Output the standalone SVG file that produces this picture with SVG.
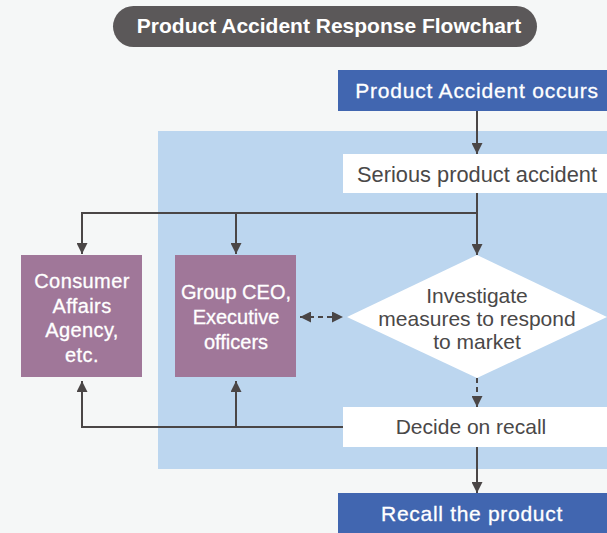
<svg xmlns="http://www.w3.org/2000/svg" width="607" height="533" viewBox="0 0 607 533">
<defs>
<marker id="ah" viewBox="0 0 10 10" refX="10" refY="5" markerWidth="11" markerHeight="11" markerUnits="userSpaceOnUse" orient="auto-start-reverse">
<path d="M0,0 L10,5 L0,10 z" fill="#4a4646"/>
</marker>
<style>
.ln{fill:none;stroke:#4a4646;stroke-width:2}
.ds{fill:none;stroke:#4a4646;stroke-width:2;stroke-dasharray:5 4}
.w{font-family:"Liberation Sans",Arial,sans-serif;fill:#fff;text-anchor:middle}
.b{font-weight:bold}
.m{stroke:#fff;stroke-width:0.3}
.d{font-family:"Liberation Sans",Arial,sans-serif;fill:#4a4848;text-anchor:middle}
.blue{fill:#4166b0}
.pur{fill:#a07799}
</style>
</defs>
<rect width="607" height="533" fill="#f5f7f7"/>
<rect x="158" y="131" width="449" height="338" fill="#bcd6ef"/>
<g id="title">
<rect x="113" y="6" width="424" height="41" rx="20.5" fill="#5b5859"/>
<text class="w b" x="329" y="33" font-size="21">Product Accident Response Flowchart</text>
</g>
<g id="connectors">
<line class="ln" x1="477" y1="111" x2="477" y2="154" marker-end="url(#ah)"/>
<line class="ln" x1="477" y1="193" x2="477" y2="255" marker-end="url(#ah)"/>
<polyline class="ln" points="477,213 82,213 82,254" marker-end="url(#ah)"/>
<line class="ln" x1="236" y1="213" x2="236" y2="254" marker-end="url(#ah)"/>
<polyline class="ln" points="343,427 82,427 82,381" marker-end="url(#ah)"/>
<line class="ln" x1="236" y1="427" x2="236" y2="381" marker-end="url(#ah)"/>
<line class="ds" x1="300" y1="317" x2="343" y2="317" marker-start="url(#ah)" marker-end="url(#ah)"/>
<line class="ds" x1="477" y1="378" x2="477" y2="407" marker-end="url(#ah)"/>
<line class="ln" x1="477" y1="447" x2="477" y2="493" marker-end="url(#ah)"/>
</g>
<g id="occurs">
<rect class="blue" x="338" y="70" width="269" height="41"/>
<text class="w m" x="477" y="98" font-size="21" letter-spacing="0.8">Product Accident occurs</text>
</g>
<g id="serious">
<rect x="343" y="154" width="264" height="39" fill="#fff"/>
<text class="d" x="477" y="182" font-size="21.8">Serious product accident</text>
</g>
<g id="consumer">
<rect class="pur" x="21" y="255" width="121" height="122"/>
<text class="w m" font-size="20" letter-spacing="0.4"><tspan x="82" y="288">Consumer</tspan><tspan x="82" y="313">Affairs</tspan><tspan x="82" y="337">Agency,</tspan><tspan x="82" y="362">etc.</tspan></text>
</g>
<g id="ceo">
<rect class="pur" x="175" y="255" width="121" height="122"/>
<text class="w m" font-size="20"><tspan x="236" y="299">Group CEO,</tspan><tspan x="236" y="324">Executive</tspan><tspan x="236" y="349">officers</tspan></text>
</g>
<g id="investigate">
<polygon points="477,255 607,317 477,378 347,317" fill="#fff"/>
<text class="d" font-size="21"><tspan x="477" y="303">Investigate</tspan><tspan x="477" y="326">measures to respond</tspan><tspan x="477" y="349">to market</tspan></text>
</g>
<g id="decide">
<rect x="343" y="407" width="264" height="40" fill="#fff"/>
<text class="d" x="471" y="434" font-size="21">Decide on recall</text>
</g>
<g id="recall">
<rect class="blue" x="338" y="493" width="269" height="40"/>
<text class="w m" x="472" y="521" font-size="21" letter-spacing="0.7">Recall the product</text>
</g>
</svg>
